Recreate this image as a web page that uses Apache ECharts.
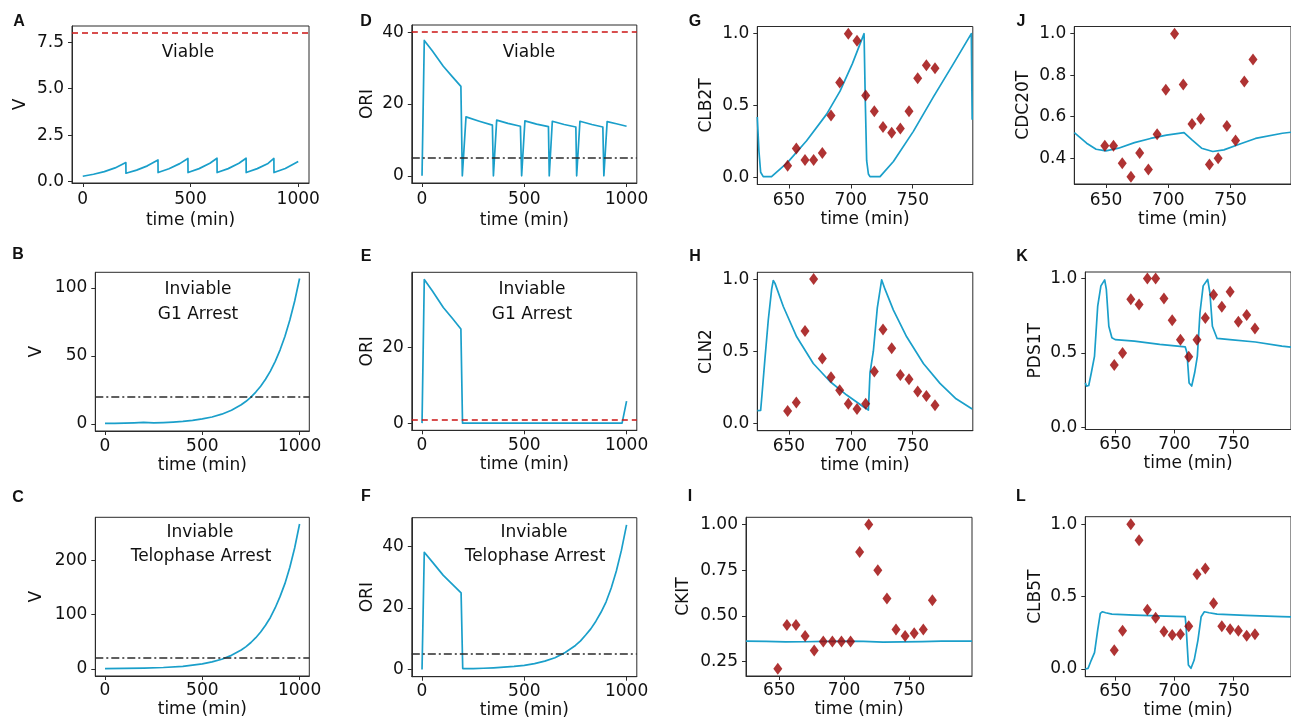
<!DOCTYPE html>
<html><head><meta charset="utf-8">
<script src="https://cdn.jsdelivr.net/npm/echarts@6/dist/echarts.min.js"></script>
<style>html,body{margin:0;padding:0;background:#fff}#c{width:1291px;height:720px}</style>
</head><body><div id="c"></div>
<script>
// ---------- tick labels ----------
const longTimeTicks = [0, 500, 1000];
const shortTimeTicks = [650, 700, 750];
const aTicks = [0, 2.5, 5, 7.5];
const bTicks = [0, 50, 100];
const cTicks = [0, 100, 200];
const oriTicks = [0, 20, 40];
const eTicks = [0, 20];
const unitTicks = [0, 0.5, 1];
const jTicks = [0.4, 0.6, 0.8, 1.0];
const iTicks = [0.25, 0.5, 0.75, 1.0];

// ---------- A: V, viable ----------
const aT = [0, 50, 100, 150, 200, 200.5, 250, 300, 349, 349.5, 400, 450, 488, 488.5, 540, 590, 623, 623.5, 675, 725, 758, 758.5, 810, 860, 887, 887.5, 940, 1000];
const aV = [0.28, 0.385, 0.53, 0.73, 1.02, 0.44, 0.61, 0.84, 1.16, 0.48, 0.68, 0.96, 1.24, 0.48, 0.69, 0.98, 1.25, 0.48, 0.69, 0.98, 1.25, 0.48, 0.69, 0.97, 1.24, 0.48, 0.70, 1.08];
// ---------- B: V, G1 arrest ----------
const bT = [0, 50, 100, 150, 198, 199, 250, 300, 350, 400, 450, 500, 550, 600, 650, 700, 725, 750, 775, 800, 825, 850, 875, 900, 925, 950, 975, 1000];
const bV = [0.28, 0.39, 0.53, 0.73, 1.0, 0.46, 0.65, 0.9, 1.3, 1.8, 2.5, 3.6, 5.0, 7.1, 10, 14, 16.6, 19.7, 23.4, 27.7, 32.8, 38.8, 46, 54.5, 64.5, 76.5, 90.5, 107];
// ---------- C: V, telophase arrest ----------
const cT = [0, 100, 200, 300, 400, 500, 550, 600, 650, 700, 725, 750, 775, 800, 825, 850, 875, 900, 925, 950, 975, 1000];
const cV = [0.3, 0.6, 1.2, 2.3, 4.5, 9, 12.7, 17.7, 24.8, 34.8, 41, 48.6, 57.5, 68, 80.5, 95, 113, 134, 158, 188, 224, 268];
// ---------- D: ORI, viable ----------
const dT = [0, 11, 50, 104, 150, 190, 197, 215, 280, 344, 349, 365, 420, 481, 487, 503, 560, 618, 622, 637, 695, 752, 756, 772, 830, 884, 889, 905, 950, 1000];
const dV = [0, 37.7, 34.8, 30.5, 27.5, 24.9, 0, 16.4, 15.2, 14.1, 0, 15.5, 14.6, 13.8, 0, 15.3, 14.4, 13.7, 0, 15.2, 14.3, 13.6, 0, 15.2, 14.3, 13.6, 0, 15.1, 14.5, 13.8];
// ---------- E: ORI, G1 arrest ----------
const eT = [0, 11, 50, 104, 150, 190, 198, 400, 600, 800, 978, 1000];
const eV = [0, 38, 35, 30.6, 27.6, 24.9, 0, 0, 0, 0, 0, 5.8];
// ---------- F: ORI, telophase arrest ----------
const fT = [0, 11, 50, 104, 150, 191, 199, 250, 300, 350, 400, 450, 500, 550, 600, 650, 700, 750, 775, 800, 825, 850, 875, 900, 925, 950, 975, 1000];
const fV = [0, 38.1, 35, 30.6, 27.6, 24.9, 0.3, 0.3, 0.4, 0.55, 0.75, 1.0, 1.35, 1.9, 2.7, 3.8, 5.5, 7.8, 9.3, 11.2, 13.2, 15.7, 18.6, 22, 26.5, 32, 38.8, 47];
// ---------- thresholds ----------
const aRed = 8, dRed = 40, dBlack = 5, bBlack = 20, eRed = 1, cBlack = 20, fBlack = 5;

// ---------- model curves, right columns ----------
const gT = [624.5, 625.8, 627.2, 629.3, 636, 649, 664.3, 680.5, 691.3, 701.2, 710.7, 711.7, 712.8, 714.2, 715.5, 723.6, 734.4, 750.5, 766.7, 782.8, 797.3, 798];
const gV = [0.42, 0.185, 0.035, 0.005, 0.005, 0.104, 0.255, 0.44, 0.6, 0.79, 1.0, 0.53, 0.116, 0.023, 0.005, 0.005, 0.11, 0.32, 0.56, 0.79, 1.0, 0.4];
const hT = [624.5, 627.2, 628.3, 630.7, 633.4, 636.1, 637.4, 638.8, 645.5, 656.3, 669.7, 683.2, 696.7, 710.1, 714.2, 715.5, 718.2, 721.4, 724.9, 727.6, 734.4, 745.1, 758.6, 772, 785, 798];
const hV = [0.088, 0.09, 0.2, 0.45, 0.72, 0.93, 0.99, 0.97, 0.81, 0.6, 0.415, 0.29, 0.196, 0.115, 0.092, 0.35, 0.5, 0.8, 0.995, 0.93, 0.785, 0.6, 0.415, 0.277, 0.17, 0.1];
const iT = [624.5, 640, 655, 670, 685, 700, 715, 730, 745, 760, 775, 798.5];
const iV = [0.362, 0.36, 0.357, 0.358, 0.36, 0.362, 0.36, 0.356, 0.357, 0.359, 0.361, 0.362];
const jT = [624.5, 634.4, 642, 649.8, 660, 672.8, 685.7, 698.5, 712.6, 719, 726.7, 735.7, 744.6, 757.5, 770, 791.6, 798.5];
const jV = [0.523, 0.472, 0.443, 0.435, 0.448, 0.475, 0.495, 0.511, 0.523, 0.488, 0.448, 0.432, 0.44, 0.468, 0.495, 0.52, 0.525];
const kT = [624.5, 625.5, 627.4, 629.6, 632.3, 635, 637.7, 640.9, 642.3, 644.4, 647, 649.8, 666, 687.5, 709, 710.5, 712.3, 714.5, 717, 719.3, 721.5, 724.2, 728, 729.9, 732, 736, 746.8, 768.4, 790.8, 798.5];
const kV = [0.3, 0.279, 0.283, 0.368, 0.48, 0.815, 0.95, 0.99, 0.926, 0.68, 0.603, 0.59, 0.58, 0.558, 0.542, 0.502, 0.3, 0.279, 0.368, 0.48, 0.77, 0.95, 0.993, 0.904, 0.68, 0.598, 0.59, 0.574, 0.547, 0.54];
const lT = [624.5, 625, 626.9, 629.6, 632.3, 635, 637.2, 639, 641.7, 647, 666, 693, 709, 709.8, 711.7, 713.9, 716.6, 719.8, 722.5, 725.2, 729.2, 736, 760, 790.6, 798.5];
const lV = [0, 0, 0.005, 0.062, 0.113, 0.27, 0.385, 0.396, 0.389, 0.38, 0.373, 0.366, 0.362, 0.29, 0.028, 0.005, 0.062, 0.2, 0.362, 0.396, 0.389, 0.38, 0.371, 0.362, 0.36];

// ---------- experimental data ----------
const expT = [649, 656, 663, 670, 677, 684, 691, 698, 705, 712, 719, 726, 733, 740, 747, 754, 761, 768];
const clb2Exp = [0.08, 0.2, 0.12, 0.12, 0.17, 0.43, 0.66, 1.0, 0.95, 0.57, 0.46, 0.35, 0.31, 0.34, 0.46, 0.69, 0.78, 0.76];
const cln2Exp = [0.085, 0.145, 0.64, 1.0, 0.45, 0.32, 0.23, 0.135, 0.1, 0.135, 0.36, 0.65, 0.52, 0.335, 0.305, 0.22, 0.19, 0.125];
const ckiExp = [0.21, 0.45, 0.45, 0.39, 0.31, 0.36, 0.36, 0.36, 0.36, 0.85, 1.0, 0.75, 0.595, 0.425, 0.39, 0.405, 0.425, 0.585];
const cdc20Exp = [0.46, 0.46, 0.375, 0.31, 0.425, 0.345, 0.515, 0.73, 1.0, 0.755, 0.565, 0.59, 0.37, 0.40, 0.555, 0.485, 0.77, 0.875];
const pds1Exp = [0.42, 0.5, 0.86, 0.825, 1.0, 1.0, 0.865, 0.72, 0.59, 0.475, 0.59, 0.735, 0.89, 0.81, 0.91, 0.71, 0.755, 0.665];
const clb5Exp = [0.13, 0.265, 1.0, 0.89, 0.41, 0.355, 0.26, 0.235, 0.24, 0.295, 0.655, 0.695, 0.455, 0.295, 0.275, 0.265, 0.23, 0.24];

// ---------- styling ----------
const FONT = 'DejaVu Sans';
const LINE = '#1a9fca';
const EXPC = '#9b0000';
const RED = '#cc1414';
const DARK = '#2b2b2b';
const LONGX = [-50, 1050];
const SHORTX = [624.5, 798.5];

const panels = [
  {L:'A', left:72, top:26, w:237, h:157, x:LONGX, xt:longTimeTicks, y:[-0.085, 8.385], yt:aTicks, dec:1, yn:'V', yg:43, xg:29, lm:8, t:aT, v:aV, hl:[[aRed,'r']]},
  {L:'D', left:411.8, top:25, w:225, h:158, x:LONGX, xt:longTimeTicks, y:[-2, 42], yt:oriTicks, dec:0, yn:'ORI', yg:36, xg:29, lm:8, t:dT, v:dV, hl:[[dRed,'r'],[dBlack,'k']]},
  {L:'G', left:757.3, top:26.5, w:215.5, h:158, x:SHORTX, xt:shortTimeTicks, y:[-0.05, 1.05], yt:unitTicks, dec:1, yn:'CLB2T', yg:42, xg:27, lm:8, t:gT, v:gV, e:clb2Exp},
  {L:'J', left:1074.3, top:26.5, w:226, h:157.5, x:SHORTX, xt:shortTimeTicks, y:[0.2755, 1.0345], yt:jTicks, dec:1, yn:'CDC20T', yg:42, xg:27, lm:8, t:jT, v:jV, e:cdc20Exp},
  {L:'B', left:95.3, top:272.3, w:214, h:158.7, x:LONGX, xt:longTimeTicks, y:[-5.3, 111.6], yt:bTicks, dec:0, yn:'V', yg:50, xg:26, lm:7, t:bT, v:bV, hl:[[bBlack,'k']]},
  {L:'E', left:411.8, top:272.3, w:225, h:158, x:LONGX, xt:longTimeTicks, y:[-1.9, 39.9], yt:eTicks, dec:0, yn:'ORI', yg:36, xg:26, lm:7, t:eT, v:eV, hl:[[eRed,'r']]},
  {L:'H', left:757.3, top:272.3, w:215.5, h:158.4, x:SHORTX, xt:shortTimeTicks, y:[-0.051, 1.047], yt:unitTicks, dec:1, yn:'CLN2', yg:42, xg:26, lm:7, t:hT, v:hV, e:cln2Exp},
  {L:'K', left:1085.3, top:272, w:215.5, h:157.5, x:SHORTX, xt:shortTimeTicks, y:[-0.012, 1.043], yt:unitTicks, dec:1, yn:'PDS1T', yg:41, xg:26, lm:7, t:kT, v:kV, e:pds1Exp},
  {L:'C', left:95.3, top:517.3, w:214, h:158.7, x:LONGX, xt:longTimeTicks, y:[-13.4, 280.4], yt:cTicks, dec:0, yn:'V', yg:50, xg:25, lm:6, t:cT, v:cV, hl:[[cBlack,'k']]},
  {L:'F', left:411.8, top:517.7, w:225, h:159, x:LONGX, xt:longTimeTicks, y:[-2.35, 49.35], yt:oriTicks, dec:0, yn:'ORI', yg:36, xg:25, lm:6, t:fT, v:fV, hl:[[fBlack,'k']]},
  {L:'I', left:746, top:517.3, w:226, h:158.7, x:SHORTX, xt:shortTimeTicks, y:[0.1705, 1.0395], yt:iTicks, dec:2, yn:'CKIT', yg:54, xg:25, lm:6, t:iT, v:iV, e:ckiExp},
  {L:'L', left:1085.3, top:516.7, w:215.5, h:160, x:SHORTX, xt:shortTimeTicks, y:[-0.053, 1.053], yt:unitTicks, dec:1, yn:'CLB5T', yg:41, xg:25, lm:6, t:lT, v:lV, e:clb5Exp}
];

const letterPos = {A:[19,22], D:[366,22], G:[695,22], J:[1021,22], B:[18,255], E:[366,257], H:[695,257], K:[1022,257], C:[18,498], F:[366,497], I:[690,497], L:[1021,497]};
const notes = [
  ['Viable', 188, 53], ['Viable', 529, 53],
  ['Inviable', 198, 290], ['G1 Arrest', 198, 315],
  ['Inviable', 532, 290], ['G1 Arrest', 532, 315],
  ['Inviable', 200, 533], ['Telophase Arrest', 201, 557],
  ['Inviable', 534, 533], ['Telophase Arrest', 535, 557]
];

const option = {animation:false, backgroundColor:'#fff', grid:[], xAxis:[], yAxis:[], series:[], graphic:[]};

function axis(i, range, ticks, dec, name, gap, margin) {
  return {
    type:'value', gridIndex:i, min:range[0], max:range[1],
    name:name, nameLocation:'middle', nameGap:gap,
    nameTextStyle:{fontFamily:FONT, fontSize:17, color:'#111'},
    axisLine:{show:true, onZero:false, lineStyle:{color:DARK, width:1}},
    axisTick:{show:true, inside:false, length:4, lineStyle:{color:DARK, width:1}, customValues:ticks},
    axisLabel:{show:true, customValues:ticks, margin:margin, fontFamily:FONT, fontSize:17, color:'#111',
               formatter:(v)=>Number(v).toFixed(dec)},
    splitLine:{show:false}
  };
}

panels.forEach((p, i) => {
  option.grid.push({left:p.left, top:p.top, width:p.w, height:p.h, show:true, borderColor:DARK, borderWidth:1, backgroundColor:'transparent'});
  option.xAxis.push(axis(i, p.x, p.xt, 0, 'time (min)', p.xg, p.lm));
  option.yAxis.push(axis(i, p.y, p.yt, p.dec, p.yn, p.yg, 8));
  const lineSeries = {
    type:'line', xAxisIndex:i, yAxisIndex:i, showSymbol:false, symbol:'none', smooth:false,
    data:p.t.map((t, k) => [t, p.v[k]]),
    lineStyle:{color:LINE, width:1.7, join:'round'}, itemStyle:{color:LINE}, z:3
  };
  if (p.hl) {
    lineSeries.markLine = {
      silent:true, symbol:'none', label:{show:false}, animation:false,
      data:p.hl.map(h => ({yAxis:h[0], lineStyle: h[1]==='r'
        ? {color:RED, width:1.6, type:[6,4]}
        : {color:DARK, width:1.6, type:[8,3,2,3]}}))
    };
  }
  option.series.push(lineSeries);
  if (p.e) {
    option.series.push({
      type:'scatter', xAxisIndex:i, yAxisIndex:i, symbol:'diamond', symbolSize:[9,12],
      data:expT.map((t, k) => [t, p.e[k]]), itemStyle:{color:EXPC}, z:4
    });
  }
  const lp = letterPos[p.L];
  option.graphic.push({type:'text', x:lp[0], y:lp[1], silent:true,
    style:{text:p.L, fontFamily:'Liberation Sans', fontWeight:'bold', fontSize:16, fill:'#111', align:'center', verticalAlign:'middle'}});
});
notes.forEach(n => option.graphic.push({type:'text', x:n[1], y:n[2], silent:true,
  style:{text:n[0], fontFamily:FONT, fontSize:17, fill:'#111', align:'center', verticalAlign:'middle'}}));

const chart = echarts.init(document.getElementById('c'), null, {renderer:'canvas'});
chart.setOption(option);
</script></body></html>
